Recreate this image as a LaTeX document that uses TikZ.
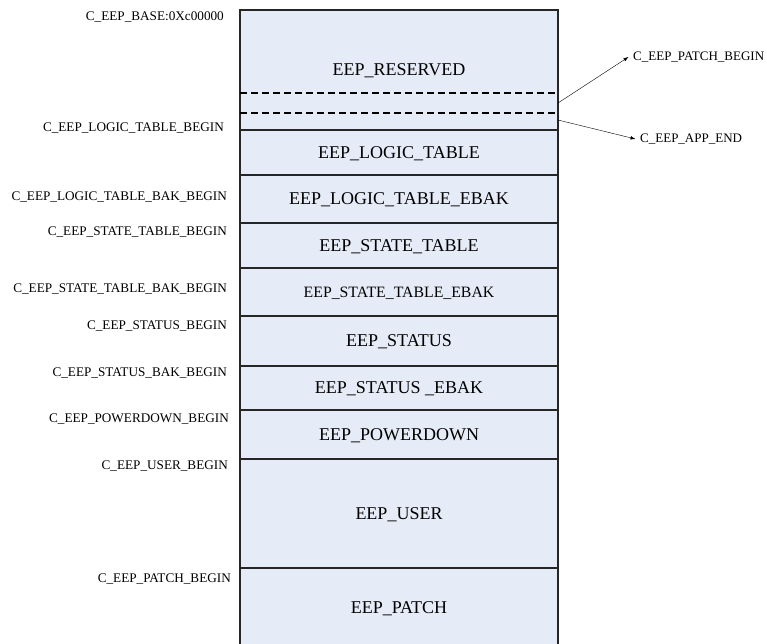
\documentclass[tikz,border=0pt]{standalone}
\usepackage{fontspec}
\setmainfont{Liberation Serif}
\usetikzlibrary{positioning,arrows.meta}
\definecolor{memfill}{RGB}{230,236,247}
\tikzset{
  region/.style={draw=black!85,line width=1.1pt,fill=memfill,minimum width=318pt,
    inner sep=0pt,outer sep=0pt,text depth=0pt,font=\fontsize{18}{20}\selectfont},
  addr/.style={anchor=east,inner sep=0pt,font=\fontsize{13.2}{15}\selectfont},
  ptr/.style={anchor=west,inner xsep=4.5pt,inner ysep=0pt,font=\fontsize{13}{15}\selectfont},
  dashline/.style={line width=1.6pt,dash pattern=on 7pt off 4pt},
}
\begin{document}
\begin{tikzpicture}[x=1pt,y=-1pt,node distance=0pt]
   \useasboundingbox (0,0) rectangle (767,644);
   % memory regions, top to bottom
   \node[region,minimum height=120pt] (0) at (399,70) {EEP\_RESERVED};
   \node[region,minimum height=45pt] (1) [below=of 0] {EEP\_LOGIC\_TABLE};
   \node[region,minimum height=48pt] (2) [below=of 1] {EEP\_LOGIC\_TABLE\_EBAK};
   \node[region,minimum height=45pt] (3) [below=of 2] {EEP\_STATE\_TABLE};
   \node[region,minimum height=48pt,font=\fontsize{15.8}{18}\selectfont] (4) [below=of 3] {EEP\_STATE\_TABLE\_EBAK};
   \node[region,minimum height=50pt] (5) [below=of 4] {EEP\_STATUS};
   \node[region,minimum height=44pt] (6) [below=of 5] {EEP\_STATUS \_EBAK};
   \node[region,minimum height=49pt] (7) [below=of 6] {EEP\_POWERDOWN};
   \node[region,minimum height=109pt] (8) [below=of 7] {EEP\_USER};
   \node[region,minimum height=80pt] (9) [below=of 8] {EEP\_PATCH};
   % start addresses
   \node[addr] (a0) at (224,17) {C\_EEP\_BASE:0Xc00000};
   \node[addr] (a1) at (224,128) {C\_EEP\_LOGIC\_TABLE\_BEGIN};
   \node[addr] (a2) at (227,197) {C\_EEP\_LOGIC\_TABLE\_BAK\_BEGIN};
   \node[addr] (a3) at (227,232) {C\_EEP\_STATE\_TABLE\_BEGIN};
   \node[addr] (a4) at (227,289) {C\_EEP\_STATE\_TABLE\_BAK\_BEGIN};
   \node[addr] (a5) at (227,326) {C\_EEP\_STATUS\_BEGIN};
   \node[addr] (a6) at (227,373) {C\_EEP\_STATUS\_BAK\_BEGIN};
   \node[addr] (a7) at (229,419) {C\_EEP\_POWERDOWN\_BEGIN};
   \node[addr] (a8) at (228,466) {C\_EEP\_USER\_BEGIN};
   \node[addr] (a9) at (231,579) {C\_EEP\_PATCH\_BEGIN};
   % patch / app boundaries inside the reserved area
   \draw[dashline] ([yshift=-83pt]0.north west) -- ([yshift=-83pt]0.north east);
   \draw[dashline] ([yshift=-103pt]0.north west) -- ([yshift=-103pt]0.north east);
   \coordinate (p) at ([yshift=-93pt]0.north east);
   \coordinate (q) at ([yshift=-110pt]0.north east);
   \node[ptr] (pb) at (628.5,57) {C\_EEP\_PATCH\_BEGIN};
   \node[ptr] (ae) at (635.5,139) {C\_EEP\_APP\_END};
   \draw[-{Latex[length=5pt,width=3.5pt]}] (p) -- (pb.west);
   \draw[-{Latex[length=5pt,width=3.5pt]}] (q) -- (ae.west);
  \end{tikzpicture}
\end{document}
